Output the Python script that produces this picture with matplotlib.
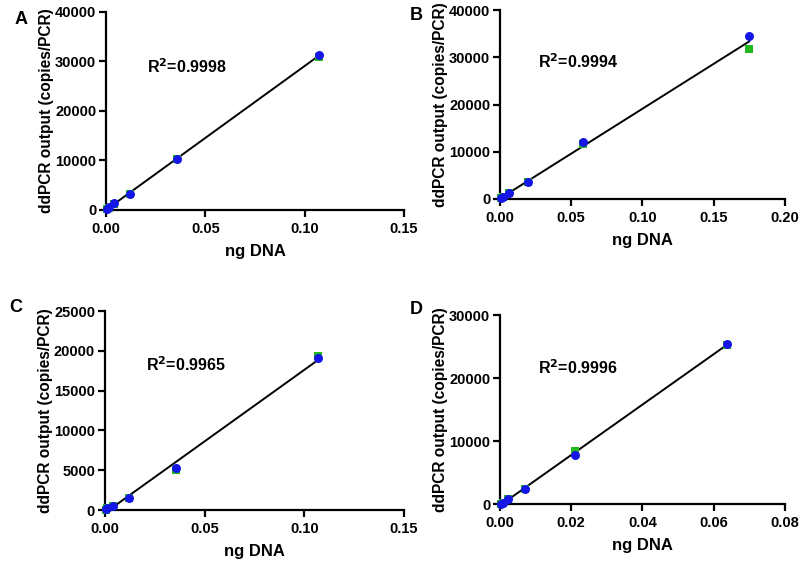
import numpy as np
import matplotlib
matplotlib.use("Agg")
import matplotlib.pyplot as plt

plt.rcParams['font.family'] = ['Liberation Sans', 'DejaVu Sans']
plt.rcParams['font.weight'] = 'bold'

panel_letters = ["A", "B", "C", "D"]
r2_labels = ["R$^2$=0.9998", "R$^2$=0.9994", "R$^2$=0.9965", "R$^2$=0.9996"]

# Panel A
xA = [0.107, 0.0357, 0.0119, 0.00397, 0.00132, 0.00044]
yA_green = [31000, 10200, 3300, 1300, 450, 150]
yA_blue = [31400, 10200, 3250, 1480, 540, 180]
# Panel B
xB = [0.175, 0.0585, 0.0195, 0.0065, 0.00217, 0.00072]
yB_green = [31700, 11700, 3600, 1200, 420, 140]
yB_blue = [34600, 12150, 3600, 1270, 430, 150]
# Panel C
xC = [0.107, 0.0357, 0.0119, 0.00397, 0.00132, 0.00044]
yC_green = [19300, 5050, 1500, 450, 200, 60]
yC_blue = [19050, 5300, 1500, 500, 200, 70]
# Panel D
xD = [0.0637, 0.0212, 0.00708, 0.00236, 0.00079, 0.00026]
yD_green = [25300, 8470, 2330, 740, 210, 60]
yD_blue = [25340, 7780, 2330, 740, 210, 60]

xlims = [(0, 0.15), (0, 0.20), (0, 0.15), (0, 0.08)]
xticks = [[0, 0.05, 0.10, 0.15], [0, 0.05, 0.10, 0.15, 0.20],
          [0, 0.05, 0.10, 0.15], [0, 0.02, 0.04, 0.06, 0.08]]
ylims = [(0, 40000), (0, 40000), (0, 25000), (0, 30000)]
yticks = [[0, 10000, 20000, 30000, 40000], [0, 10000, 20000, 30000, 40000],
          [0, 5000, 10000, 15000, 20000, 25000], [0, 10000, 20000, 30000]]
r2_pos = [(0.0205, 29000), (0.027, 29100), (0.0205, 18200), (0.0107, 21700)]

data = [(xA, yA_green, yA_blue), (xB, yB_green, yB_blue),
        (xC, yC_green, yC_blue), (xD, yD_green, yD_blue)]

axes_rects = [
    [0.1325, 0.6257, 0.3725, 0.353],
    [0.625, 0.6453, 0.356, 0.3367],
    [0.131, 0.0909, 0.374, 0.3547],
    [0.625, 0.1016, 0.356, 0.3369],
]
letter_pos = [(0.018, 0.965), (0.512, 0.972), (0.012, 0.452), (0.512, 0.448)]

GREEN = '#22b822'
BLUE = '#1515e6'

fig = plt.figure(figsize=(8.0, 5.61), dpi=100)
for i in range(4):
    ax = fig.add_axes(axes_rects[i])
    x, yg, yb = data[i]
    ax.scatter(x, yg, marker='s', s=36, color=GREEN, zorder=3, linewidths=0)
    ax.scatter(x, yb, marker='o', s=42, color=BLUE, zorder=4, linewidths=0)
    xs = np.array(x + x)
    ys = np.array(yg + yb)
    m, b = np.polyfit(xs, ys, 1)
    xl = np.array([min(x), max(x)])
    ax.plot(xl, m * xl + b, color='black', lw=1.4, zorder=2)
    ax.set_xlim(*xlims[i])
    ax.set_ylim(*ylims[i])
    ax.set_xticks(xticks[i])
    ax.set_xticklabels([f"{t:.2f}" for t in xticks[i]])
    ax.set_yticks(yticks[i])
    ax.set_yticklabels([str(t) for t in yticks[i]])
    for s in ['top', 'right']:
        ax.spines[s].set_visible(False)
    for s in ['left', 'bottom']:
        ax.spines[s].set_linewidth(1.6)
    ax.tick_params(width=1.6, length=5, labelsize=10.5, direction='out')
    ax.tick_params(axis='y', pad=2)
    for lab in ax.get_xticklabels() + ax.get_yticklabels():
        lab.set_fontweight('bold')
    ax.set_xlabel("ng DNA", fontsize=12, fontweight='bold', labelpad=6)
    ax.set_ylabel("ddPCR output (copies/PCR)", fontsize=11.2, fontweight='bold', labelpad=1)
    ax.text(r2_pos[i][0], r2_pos[i][1], r2_labels[i], fontsize=11.5,
            fontweight='bold', ha='left', va='center')
    for c in ax.collections:
        c.set_clip_on(False)
    fig.text(letter_pos[i][0], letter_pos[i][1], panel_letters[i], fontsize=13,
             fontweight='bold', ha='left', va='center')

fig.savefig("out.png", dpi=100)
